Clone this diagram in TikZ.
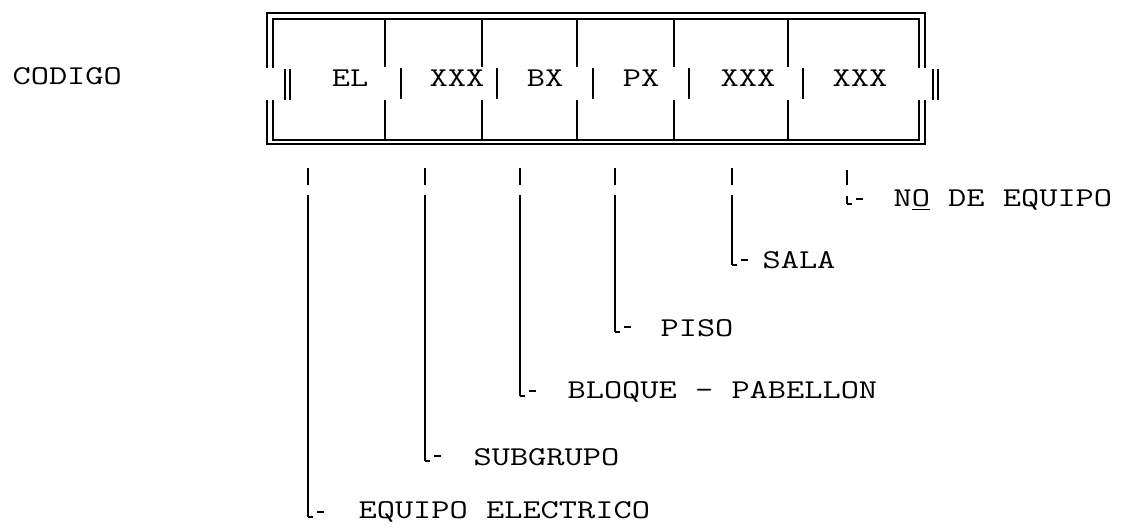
\documentclass[tikz,border=0pt]{standalone}
\usepackage{fontspec}
\usepackage{graphicx}
\usetikzlibrary{positioning,calc}

% wide typewriter text
\newcommand{\ct}[1]{\scalebox{1.3}[1]{#1}}

\tikzset{
  lfoot/.pic={\draw (0,0) -- (5,0); \draw (9,-5) -- (16,-5);}
}

\begin{document}
\begin{tikzpicture}[x=0.5pt, y=-0.5pt, line width=0.6pt,
  every node/.style={font=\fontsize{13.6}{16}\selectfont\ttfamily, inner sep=0pt},
  field/.style={anchor=center},
  lbl/.style={anchor=west}]
  \useasboundingbox (0,0) rectangle (1127,531);

  % Code name
  \node[lbl] (codigo) at (12,76) {\ct{CODIGO}};

  % Double frame, open in the middle of both sides
  \draw (267,68) -- (267,13) -- (925,13) -- (925,68);
  \draw (273,68) -- (273,19) -- (919,19) -- (919,68);
  \draw (267,100) -- (267,144) -- (925,144) -- (925,100);
  \draw (273,100) -- (273,140) -- (919,140) -- (919,100);
  \draw (285,69) -- (285,100) (290,69) -- (290,100);
  \draw (933,69) -- (933,100) (938,69) -- (938,100);

  % Dividers between fields
  \draw (385,19) -- (385,67) (401,68) -- (401,99) (385,100) -- (385,140);
  \draw (482,19) -- (482,67) (497,68) -- (497,99) (482,100) -- (482,140);
  \draw (577,19) -- (577,67) (593,68) -- (593,99) (577,100) -- (577,140);
  \draw (674,19) -- (674,67) (689,68) -- (689,99) (674,100) -- (674,140);
  \draw (788,19) -- (788,67) (803,68) -- (803,99) (788,100) -- (788,140);

  % Fields
  \node[field] (fel)   at (350,78) {\ct{EL}};
  \node[field] (fsub)  at (457,78) {\ct{XXX}};
  \node[field] (fbx)   at (545,78) {\ct{BX}};
  \node[field] (fpx)   at (641,78) {\ct{PX}};
  \node[field] (fsala) at (748,78) {\ct{XXX}};
  \node[field] (fno)   at (860,78) {\ct{XXX}};

  % Labels
  \node[lbl] (equipo)   at (358,512) {\ct{EQUIPO ELECTRICO}};
  \node[lbl] (subgrupo) at (473,457) {\ct{SUBGRUPO}};
  \node[lbl] (bloque)   at (567,392) {\ct{BLOQUE - PABELLON}};
  \node[lbl] (piso)     at (660,328) {\ct{PISO}};
  \node[lbl] (sala)     at (762,260) {\ct{SALA}};
  \node[lbl] (numero)   at (893,200) {\ct{N\underline{O} DE EQUIPO}};

  % Leaders
  \coordinate (t1) at (308,168);
  \coordinate (t2) at (425,168);
  \coordinate (t3) at (520,168);
  \coordinate (t4) at (615,168);
  \coordinate (t5) at (732,168);
  \coordinate (t6) at (847,170);

  \draw (t1) -- ++(0,17) ($(t1)+(0,27)$) -- (t1 |- 0,517) pic {lfoot};
  \draw (t2) -- ++(0,17) ($(t2)+(0,27)$) -- (t2 |- 0,461) pic {lfoot};
  \draw (t3) -- ++(0,17) ($(t3)+(0,27)$) -- (t3 |- 0,396) pic {lfoot};
  \draw (t4) -- ++(0,17) ($(t4)+(0,27)$) -- (t4 |- 0,332) pic {lfoot};
  \draw (t5) -- ++(0,17) ($(t5)+(0,27)$) -- (t5 |- 0,265) pic {lfoot};
  \draw (t6) -- ++(0,15) ($(t6)+(0,26)$) -- (t6 |- 0,204) pic {lfoot};
\end{tikzpicture}
\end{document}
